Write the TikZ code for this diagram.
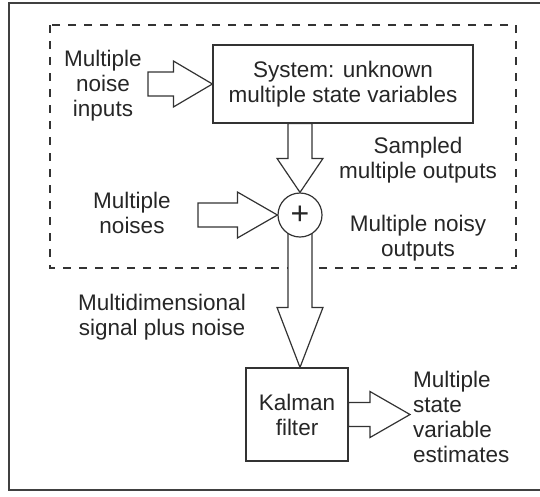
\documentclass[tikz,border=0pt]{standalone}
\usepackage{fontspec}
\setmainfont{Liberation Sans}
\usetikzlibrary{calc,backgrounds}

\newcommand{\blockarrow}[3]{%
  \path ($(#2)!#3!(#1)$) coordinate (ah);
  \draw[arrowline] ($(#1)!12pt!90:(#2)$) -- ($(ah)!12pt!90:(#2)$)
    -- ($(ah)!23pt!90:(#2)$) -- (#2) -- ($(ah)!23pt!-90:(#2)$)
    -- ($(ah)!12pt!-90:(#2)$) -- ($(#1)!12pt!-90:(#2)$) -- cycle;
}

\begin{document}
\begin{tikzpicture}[x=1pt, y=-1pt,
  every node/.style={font=\fontsize{22.5}{25}\selectfont, text=black!85},
  block/.style={draw=black!80, line width=1.2pt, fill=white, align=center, inner sep=0pt},
  sumnode/.style={circle, draw=black!80, line width=1.2pt, fill=white, minimum size=44pt,
    inner sep=0pt, font=\fontsize{32}{32}\selectfont},
  arrowline/.style={draw=black!80, line width=1.2pt, fill=white, line join=miter},
  note/.style={align=center, inner sep=0pt, anchor=base},
  frame/.style={draw=black!75, line width=1.5pt}]

\useasboundingbox (0,0) rectangle (540,496);

\draw[frame] (540,3) -| (9,490) -- (540,490);

\node[block, minimum width=260pt, minimum height=78pt] (sys) at (343,84)
  {System: unknown\\multiple state variables};
\node[sumnode] (plus) at (300,215) {+};
\node[block, minimum width=102pt, minimum height=93pt] (kf) at (297,414.5)
  {Kalman\\filter};

% anchor=base sits on the last line
\node[note] (noisein) at (103,116) {Multiple\\noise\\inputs};
\node[note] (sampled) at (418,178) {Sampled\\multiple outputs};
\node[note] (noisyout) at (418,256) {Multiple noisy\\outputs};
\node[note] (noises) at (132,233) {Multiple\\noises};
\node[note] (signal) at (162,335) {Multidimensional\\signal plus noise};
\node[note, align=left, anchor=base west] (estimates) at (413,462)
  {Multiple\\state\\variable\\estimates};

\coordinate (nin) at (148,84);
\coordinate (nsr) at (198,215);
\coordinate (sout) at (sys.south -| plus);
\coordinate (kin) at (kf.north -| plus);
\coordinate (est) at (410,414.5);

\begin{scope}[on background layer]
\draw[black!80, line width=1.2pt, dash pattern=on 8pt off 8pt] (50,25) rectangle (516,268);

\blockarrow{nin}{sys.west}{39pt}
\blockarrow{nsr}{plus.west}{40pt}
\blockarrow{sout}{plus.north}{34pt}
\blockarrow{plus.center}{kin}{60pt}
\blockarrow{kf.east}{est}{40pt}
\end{scope}

\end{tikzpicture}
\end{document}
